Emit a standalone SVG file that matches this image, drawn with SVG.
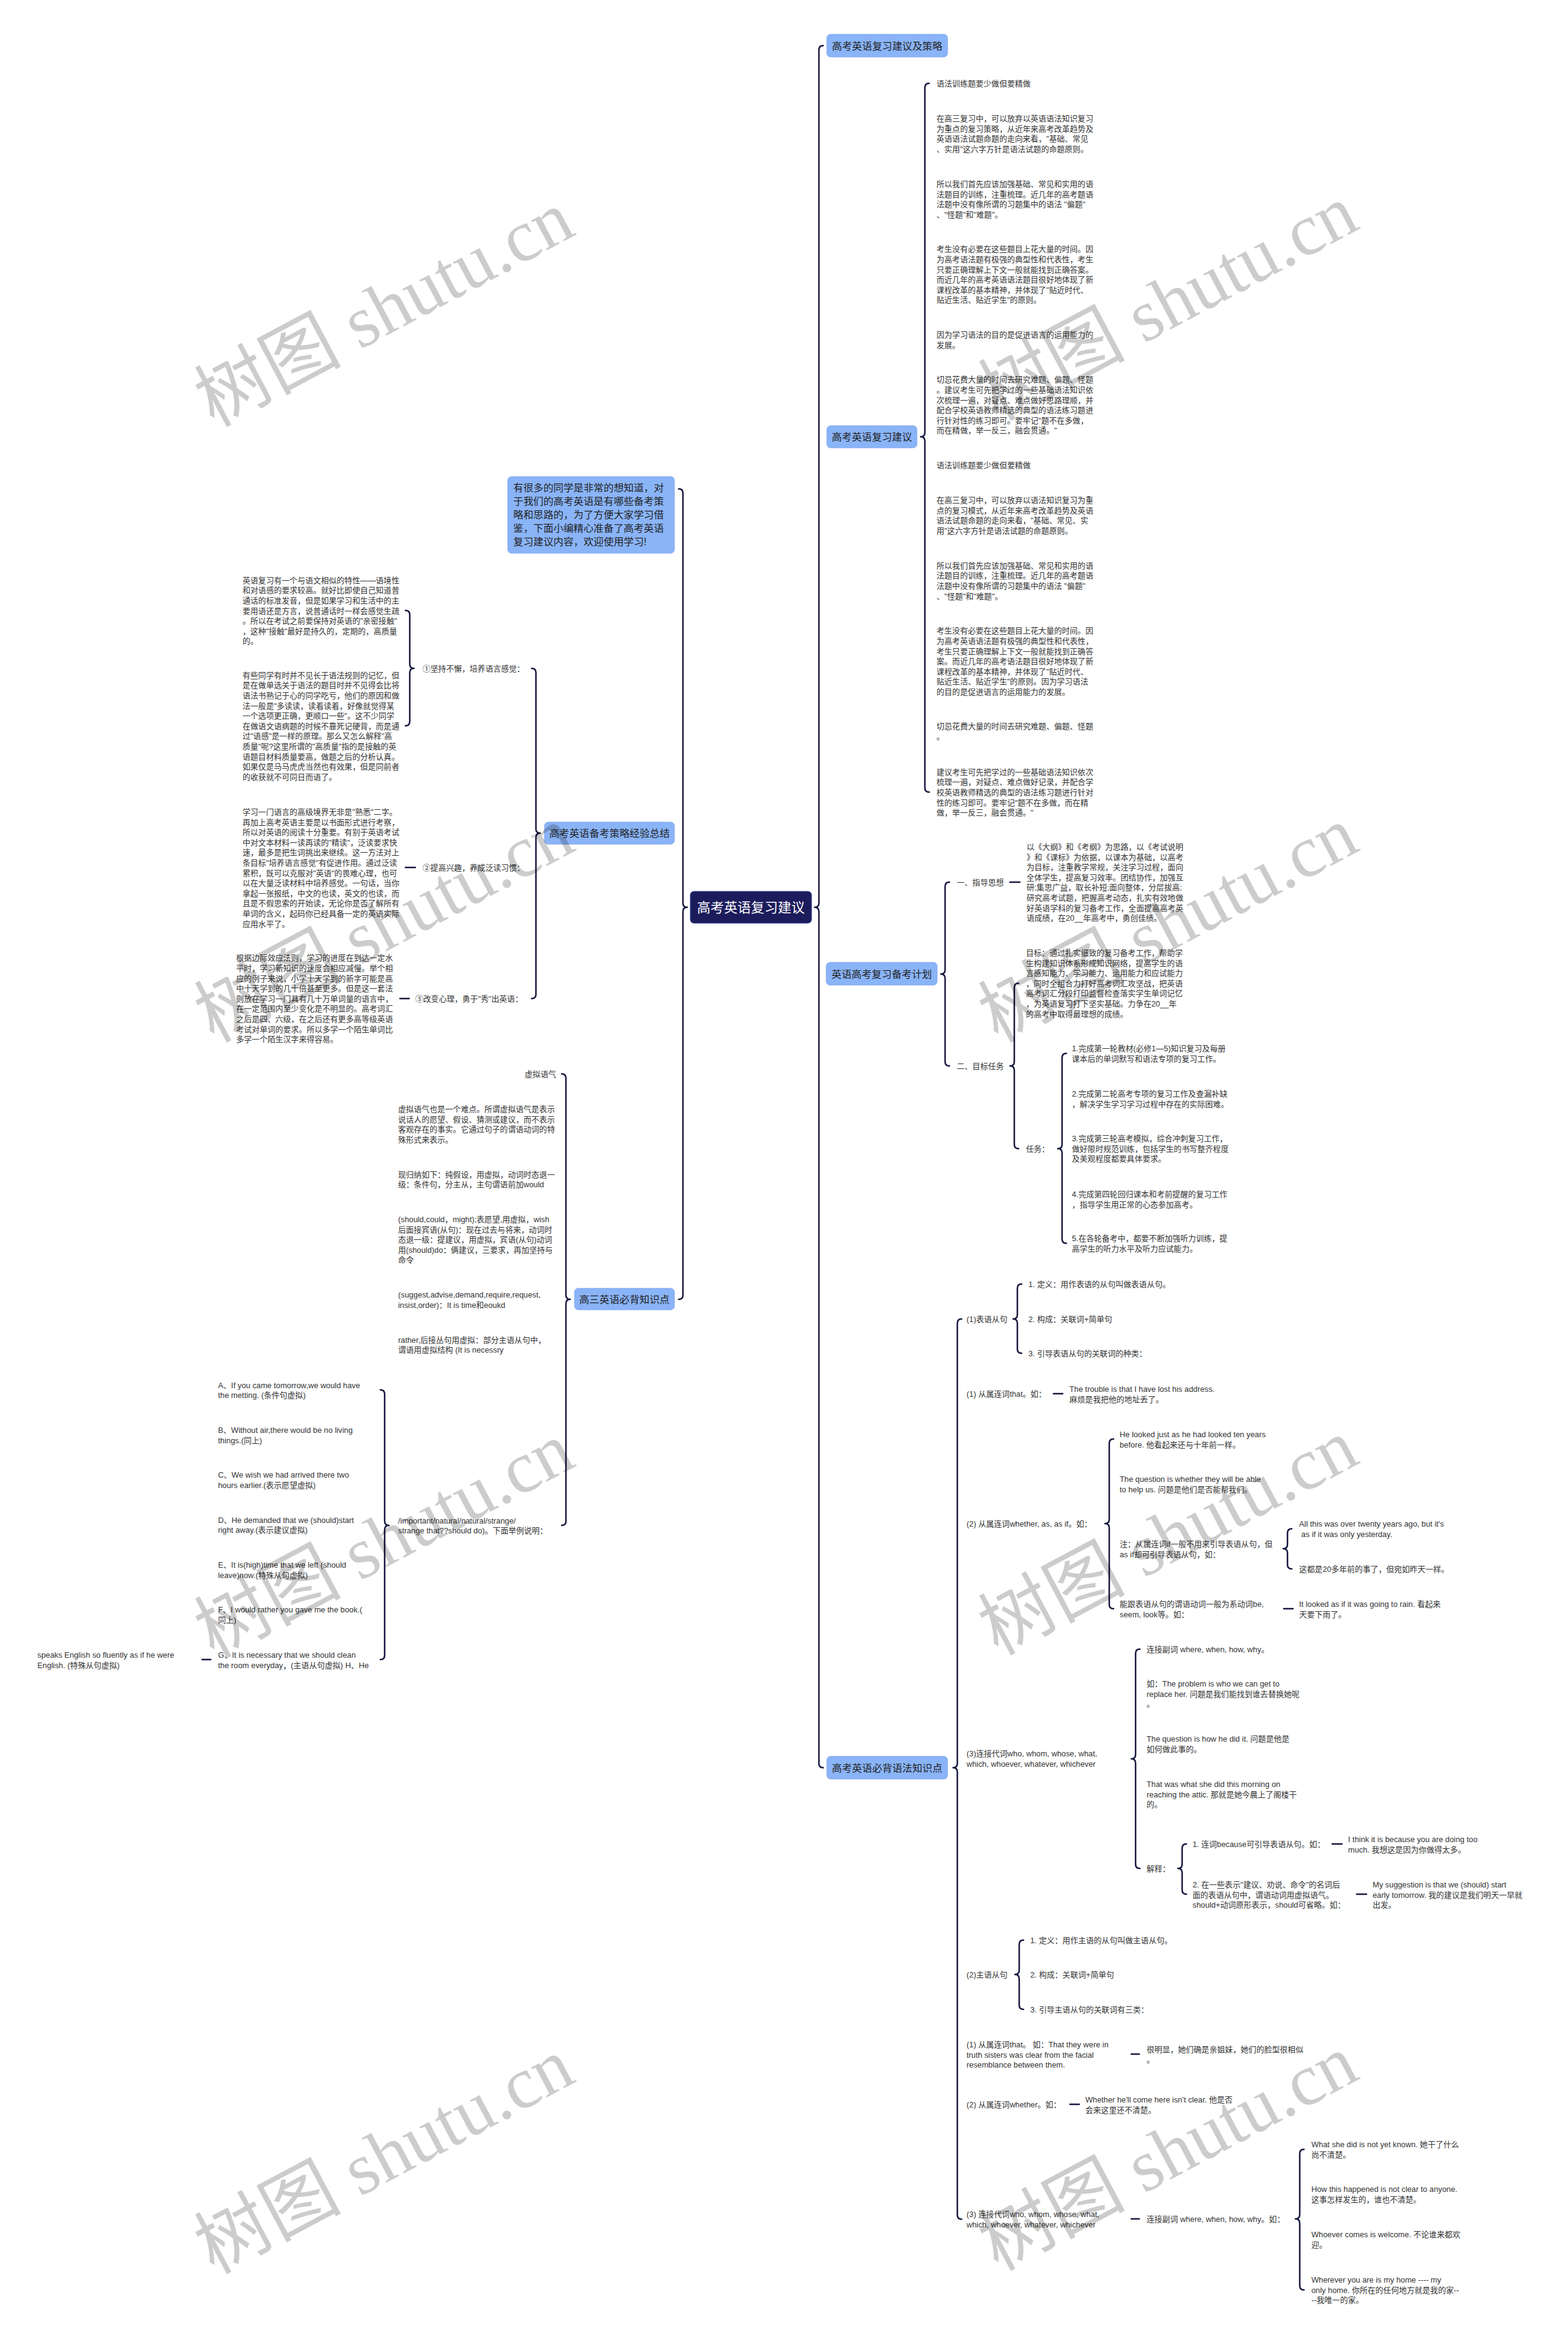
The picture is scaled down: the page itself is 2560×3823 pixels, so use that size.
<svg xmlns="http://www.w3.org/2000/svg" width="2560" height="3823" viewBox="0 0 2560 3823">
<style>
.t{font-family:"Liberation Sans","Noto Sans CJK SC",sans-serif;font-size:12.8px;fill:#333;dominant-baseline:central}
.n{font-family:"Liberation Sans","Noto Sans CJK SC",sans-serif;font-size:16.4px;fill:#1f1f1f;dominant-baseline:central}
.c{font-family:"Liberation Sans","Noto Sans CJK SC",sans-serif;font-size:22px;fill:#fff;dominant-baseline:central}
.bx{fill:#8ab4f8;stroke:#7ea6ee;stroke-width:1}
.br{fill:none;stroke:#16173f;stroke-width:2.5;stroke-linecap:round;stroke-linejoin:round}
.wm{font-family:"Liberation Serif","Noto Sans CJK SC",serif;font-size:120px;fill:#000;fill-opacity:0.2}
</style>
<rect width="2560" height="3823" fill="#fff"/>
<g id="connectors">
<path class="br" d="M1344 74.5 Q1337 74.5 1337 81.5 L1337 1474 Q1337 1481 1330 1481 Q1337 1481 1337 1488 L1337 2878.5 Q1337 2885.5 1344 2885.5"/>
<path class="br" d="M1108 798 Q1115 798 1115 805 L1115 1474 Q1115 1481 1122 1481 Q1115 1481 1115 1488 L1115 2114 Q1115 2121 1108 2121"/>
<path class="br" d="M1517 136 Q1510 136 1510 143 L1510 706 Q1510 713 1503 713 Q1510 713 1510 720 L1510 1286 Q1510 1293 1517 1293"/>
<path class="br" d="M1550 1440 Q1543 1440 1543 1447 L1543 1583 Q1543 1590 1536 1590 Q1543 1590 1543 1597 L1543 1733 Q1543 1740 1550 1740"/>
<path class="br" d="M1663 1605 Q1656 1605 1656 1612 L1656 1733 Q1656 1740 1649 1740 Q1656 1740 1656 1747 L1656 1868 Q1656 1875 1663 1875"/>
<path class="br" d="M1741 1719.5 Q1734 1719.5 1734 1726.5 L1734 1868 Q1734 1875 1727 1875 Q1734 1875 1734 1882 L1734 2022.5 Q1734 2029.5 1741 2029.5"/>
<path class="br" d="M1570 2153 Q1563 2153 1563 2160 L1563 2878.5 Q1563 2885.5 1556 2885.5 Q1563 2885.5 1563 2892.5 L1563 3615.5 Q1563 3622.5 1570 3622.5"/>
<path class="br" d="M1668 2096 Q1661 2096 1661 2103 L1661 2146 Q1661 2153 1654 2153 Q1661 2153 1661 2160 L1661 2202 Q1661 2209 1668 2209"/>
<path class="br" d="M1818 2349 Q1811 2349 1811 2356 L1811 2480 Q1811 2487 1804 2487 Q1811 2487 1811 2494 L1811 2619 Q1811 2626 1818 2626"/>
<path class="br" d="M2109 2495.5 Q2102 2495.5 2102 2502.5 L2102 2521 Q2102 2528 2095 2528 Q2102 2528 2102 2535 L2102 2554 Q2102 2561 2109 2561"/>
<path class="br" d="M1861 2692 Q1854 2692 1854 2699 L1854 2864 Q1854 2871 1847 2871 Q1854 2871 1854 2878 L1854 3043 Q1854 3050 1861 3050"/>
<path class="br" d="M1937 3010 Q1930 3010 1930 3017 L1930 3043 Q1930 3050 1923 3050 Q1930 3050 1930 3057 L1930 3085 Q1930 3092 1937 3092"/>
<path class="br" d="M1671 3167 Q1664 3167 1664 3174 L1664 3216 Q1664 3223 1657 3223 Q1664 3223 1664 3230 L1664 3273 Q1664 3280 1671 3280"/>
<path class="br" d="M2129 3508.5 Q2122 3508.5 2122 3515.5 L2122 3615 Q2122 3622 2115 3622 Q2122 3622 2122 3629 L2122 3731 Q2122 3738 2129 3738"/>
<path class="br" d="M868 1091 Q875 1091 875 1098 L875 1353 Q875 1360 882 1360 Q875 1360 875 1367 L875 1623 Q875 1630 868 1630"/>
<path class="br" d="M662 996.5 Q669 996.5 669 1003.5 L669 1084 Q669 1091 676 1091 Q669 1091 669 1098 L669 1177.7 Q669 1184.7 662 1184.7"/>
<path class="br" d="M917 1753 Q924 1753 924 1760 L924 2114 Q924 2121 931 2121 Q924 2121 924 2128 L924 2483 Q924 2490 917 2490"/>
<path class="br" d="M621 2268.7 Q628 2268.7 628 2275.7 L628 2483 Q628 2490 635 2490 Q628 2490 628 2497 L628 2702 Q628 2709 621 2709"/>
<path class="br" d="M1649 1440 H1665 M1720 2275 H1735 M2096 2626 H2111 M2175 3010 H2191 M2215 3092 H2231 M1847 3353 H1860 M1747 3435 H1762 M1847 3622 H1860 M662 1416 H678 M653 1630 H668 M330 2709 H344"/>
</g>
<g id="center">
<rect x="1127" y="1455" width="198" height="52" rx="6" fill="#1c1c5c" stroke="#3a4aa0" stroke-width="1"/>
<text class="c" x="1226" y="1481" text-anchor="middle">高考英语复习建议</text>
</g>
<g id="node-intro">
<rect class="bx" x="829" y="778" width="272" height="125" rx="6"/>
<text class="n" font-size="16.5"><tspan x="838" y="796">有很多的同学是非常的想知道，对</tspan><tspan x="838" y="818">于我们的高考英语是有哪些备考策</tspan><tspan x="838" y="840">略和思路的，为了方便大家学习借</tspan><tspan x="838" y="862">鉴，下面小编精心准备了高考英语</tspan><tspan x="838" y="884">复习建议内容，欢迎使用学习!</tspan></text>
</g>
<g id="node-strategy">
<rect class="bx" x="889" y="1342" width="212" height="36" rx="6"/>
<text class="n" x="995" y="1360" text-anchor="middle">高考英语备考策略经验总结</text>
<text class="t" x="690" y="1091">①坚持不懈，培养语言感觉：</text>
<text class="t"><tspan x="396" y="946.7">英语复习有一个与语文相似的特性——语境性</tspan><tspan x="396" y="963.3">和对语感的要求较高。就好比即使自己知道普</tspan><tspan x="396" y="979.9">通话的标准发音，但是如果学习和生活中的主</tspan><tspan x="396" y="996.5">要用语还是方言，说普通话时一样会感觉生疏</tspan><tspan x="396" y="1013.1">。所以在考试之前要保持对英语的"亲密接触"</tspan><tspan x="396" y="1029.7">，这种"接触"最好是持久的，定期的，高质量</tspan><tspan x="396" y="1046.3">的。</tspan></text>
<text class="t"><tspan x="396" y="1101.7">有些同学有时并不见长于语法规则的记忆，但</tspan><tspan x="396" y="1118.3">是在做单选关于语法的题目时并不见得会比将</tspan><tspan x="396" y="1134.9">语法书熟记于心的同学吃亏，他们的原因和做</tspan><tspan x="396" y="1151.5">法一般是"多读读，读着读着，好像就觉得某</tspan><tspan x="396" y="1168.1">一个选项更正确，更顺口一些"。这不少同学</tspan><tspan x="396" y="1184.7">在做语文语病题的时候不靠死记硬背，而是通</tspan><tspan x="396" y="1201.3">过"语感"是一样的原理。那么又怎么解释"高</tspan><tspan x="396" y="1217.9">质量"呢?这里所谓的"高质量"指的是接触的英</tspan><tspan x="396" y="1234.5">语题目材料质量要高，做题之后的分析认真。</tspan><tspan x="396" y="1251.1">如果仅是马马虎虎当然也有效果，但是同前者</tspan><tspan x="396" y="1267.7">的收获就不可同日而语了。</tspan></text>
<text class="t" x="690" y="1416">②提高兴趣，养成泛读习惯：</text>
<text class="t"><tspan x="396" y="1325">学习一门语言的高级境界无非是"熟悉"二字。</tspan><tspan x="396" y="1341.6">再加上高考英语主要是以书面形式进行考察，</tspan><tspan x="396" y="1358.2">所以对英语的阅读十分重要。有别于英语考试</tspan><tspan x="396" y="1374.8">中对文本材料一读再读的"精读"，泛读要求快</tspan><tspan x="396" y="1391.4">速，最多是把生词挑出来继续。这一方法对上</tspan><tspan x="396" y="1408">条目标"培养语言感觉"有促进作用。通过泛读</tspan><tspan x="396" y="1424.6">累积，既可以克服对"英语"的畏难心理，也可</tspan><tspan x="396" y="1441.2">以在大量泛读材料中培养感觉。一句话，当你</tspan><tspan x="396" y="1457.8">拿起一张报纸，中文的也读，英文的也读，而</tspan><tspan x="396" y="1474.4">且是不假思索的开始读，无论你是否了解所有</tspan><tspan x="396" y="1491">单词的含义，起码你已经具备一定的英语实际</tspan><tspan x="396" y="1507.6">应用水平了。</tspan></text>
<text class="t" x="678" y="1630">③改变心理，勇于"秀"出英语：</text>
<text class="t"><tspan x="385.5" y="1563.3">根据边际效应法则，学习的进度在到达一定水</tspan><tspan x="385.5" y="1579.9">平时，学习新知识的速度会相应减慢。举个相</tspan><tspan x="385.5" y="1596.5">应的例子来说，小学十天学到的新字可能是高</tspan><tspan x="385.5" y="1613.1">中十天学到的几十倍甚至更多。但是这一套法</tspan><tspan x="385.5" y="1629.7">则放在学习一门具有几十万单词量的语言中，</tspan><tspan x="385.5" y="1646.3">在一定范围内至少变化是不明显的。高考词汇</tspan><tspan x="385.5" y="1662.9">之后是四、六级，在之后还有更多高等级英语</tspan><tspan x="385.5" y="1679.5">考试对单词的要求。所以多学一个陌生单词比</tspan><tspan x="385.5" y="1696.1">多学一个陌生汉字来得容易。</tspan></text>
</g>
<g id="node-grade3">
<rect class="bx" x="938" y="2103" width="163" height="35" rx="6"/>
<text class="n" x="1019.5" y="2120.5" text-anchor="middle">高三英语必背知识点</text>
<text class="t" x="908" y="1753" text-anchor="end">虚拟语气</text>
<text class="t"><tspan x="650" y="1810">虚拟语气也是一个难点。所谓虚拟语气是表示</tspan><tspan x="650" y="1826.6">说话人的愿望、假设、猜测或建议，而不表示</tspan><tspan x="650" y="1843.2">客观存在的事实。它通过句子的谓语动词的特</tspan><tspan x="650" y="1859.8">殊形式来表示。</tspan></text>
<text class="t"><tspan x="650" y="1916.7">现归纳如下：纯假设，用虚拟，动词时态退一</tspan><tspan x="650" y="1933.3">级：条件句，分主从，主句谓语前加would</tspan></text>
<text class="t"><tspan x="650" y="1990">(should,could，might);表愿望,用虚拟，wish</tspan><tspan x="650" y="2006.6">后面接宾语(从句)：现在过去与将来，动词时</tspan><tspan x="650" y="2023.2">态退一级：提建议，用虚拟，宾语(从句)动词</tspan><tspan x="650" y="2039.8">用(should)do：俩建议，三要求，再加坚持与</tspan><tspan x="650" y="2056.4">命令</tspan></text>
<text class="t"><tspan x="650" y="2113.3">(suggest,advise,demand,require,request,</tspan><tspan x="650" y="2129.9">insist,order)：It is time和eoukd</tspan></text>
<text class="t"><tspan x="650" y="2186.7">rather,后接丛句用虚拟：部分主语从句中，</tspan><tspan x="650" y="2203.3">谓语用虚拟结构 (It is necessry</tspan></text>
<text class="t"><tspan x="650" y="2481.7">/important/natural/natural/strange/</tspan><tspan x="650" y="2498.3">strange that??should do)。下面举例说明：</tspan></text>
<text class="t"><tspan x="356" y="2260.7">A、If you came tomorrow,we would have</tspan><tspan x="356" y="2277.3">the metting. (条件句虚拟)</tspan></text>
<text class="t"><tspan x="356" y="2334">B、Without air,there would be no living</tspan><tspan x="356" y="2350.6">things.(同上)</tspan></text>
<text class="t"><tspan x="356" y="2407.3">C、We wish we had arrived there two</tspan><tspan x="356" y="2423.9">hours earlier.(表示愿望虚拟)</tspan></text>
<text class="t"><tspan x="356" y="2480.7">D、He demanded that we (should)start</tspan><tspan x="356" y="2497.3">right away.(表示建议虚拟)</tspan></text>
<text class="t"><tspan x="356" y="2554">E、It is(high)time that we left (should</tspan><tspan x="356" y="2570.6">leave)now.(特殊从句虚拟)</tspan></text>
<text class="t"><tspan x="356" y="2627.3">F、I would rather you gave me the book.(</tspan><tspan x="356" y="2643.9">同上)</tspan></text>
<text class="t"><tspan x="356" y="2701">G、It is necessary that we should clean</tspan><tspan x="356" y="2717.6">the room everyday，(主语从句虚拟) H、He</tspan></text>
<text class="t"><tspan x="61" y="2701">speaks English so fluently as if he were</tspan><tspan x="61" y="2717.6">English. (特殊从句虚拟)</tspan></text>
</g>
<g id="node-strategy2">
<rect class="bx" x="1350" y="56" width="197" height="37" rx="6"/>
<text class="n" x="1448.5" y="74.5" text-anchor="middle">高考英语复习建议及策略</text>
</g>
<g id="node-advice">
<rect class="bx" x="1350" y="695" width="147" height="36" rx="6"/>
<text class="n" x="1423.5" y="713" text-anchor="middle">高考英语复习建议</text>
<text class="t" x="1529" y="136">语法训练题要少做但要精做</text>
<text class="t"><tspan x="1529" y="193">在高三复习中，可以放弃以英语语法知识复习</tspan><tspan x="1529" y="209.6">为重点的复习策略，从近年来高考改革趋势及</tspan><tspan x="1529" y="226.2">英语语法试题命题的走向来看，"基础、常见</tspan><tspan x="1529" y="242.8">、实用"这六字方针是语法试题的命题原则。</tspan></text>
<text class="t"><tspan x="1529" y="300">所以我们首先应该加强基础、常见和实用的语</tspan><tspan x="1529" y="316.6">法题目的训练，注重梳理。近几年的高考题语</tspan><tspan x="1529" y="333.2">法题中没有像所谓的习题集中的语法 "偏题"</tspan><tspan x="1529" y="349.8">、"怪题"和"难题"。</tspan></text>
<text class="t"><tspan x="1529" y="406.4">考生没有必要在这些题目上花大量的时间。因</tspan><tspan x="1529" y="423">为高考语法题有极强的典型性和代表性，考生</tspan><tspan x="1529" y="439.6">只要正确理解上下文一般就能找到正确答案。</tspan><tspan x="1529" y="456.2">而近几年的高考英语语法题目很好地体现了新</tspan><tspan x="1529" y="472.8">课程改革的基本精神，并体现了"贴近时代、</tspan><tspan x="1529" y="489.4">贴近生活、贴近学生"的原则。</tspan></text>
<text class="t"><tspan x="1529" y="546.4">因为学习语法的目的是促进语言的运用能力的</tspan><tspan x="1529" y="563">发展。</tspan></text>
<text class="t"><tspan x="1529" y="619.4">切忌花费大量的时间去研究难题、偏题、怪题</tspan><tspan x="1529" y="636">。建议考生可先把学过的一些基础语法知识依</tspan><tspan x="1529" y="652.6">次梳理一遍，对疑点、难点做好思路理顺，并</tspan><tspan x="1529" y="669.2">配合学校英语教师精选的典型的语法练习题进</tspan><tspan x="1529" y="685.8">行针对性的练习即可。要牢记"题不在多做，</tspan><tspan x="1529" y="702.4">而在精做，举一反三，融会贯通。"</tspan></text>
<text class="t" x="1529" y="759">语法训练题要少做但要精做</text>
<text class="t"><tspan x="1529" y="816">在高三复习中，可以放弃以语法知识复习为重</tspan><tspan x="1529" y="832.6">点的复习模式，从近年来高考改革趋势及英语</tspan><tspan x="1529" y="849.2">语法试题命题的走向来看，"基础、常见、实</tspan><tspan x="1529" y="865.8">用"这六字方针是语法试题的命题原则。</tspan></text>
<text class="t"><tspan x="1529" y="922.7">所以我们首先应该加强基础、常见和实用的语</tspan><tspan x="1529" y="939.3">法题目的训练，注重梳理。近几年的高考题语</tspan><tspan x="1529" y="955.9">法题中没有像所谓的习题集中的语法 "偏题"</tspan><tspan x="1529" y="972.5">、"怪题"和"难题"。</tspan></text>
<text class="t"><tspan x="1529" y="1029.3">考生没有必要在这些题目上花大量的时间。因</tspan><tspan x="1529" y="1045.9">为高考英语语法题有极强的典型性和代表性，</tspan><tspan x="1529" y="1062.5">考生只要正确理解上下文一般就能找到正确答</tspan><tspan x="1529" y="1079.1">案。而近几年的高考语法题目很好地体现了新</tspan><tspan x="1529" y="1095.7">课程改革的基本精神，并体现了"贴近时代、</tspan><tspan x="1529" y="1112.3">贴近生活、贴近学生"的原则。因为学习语法</tspan><tspan x="1529" y="1128.9">的目的是促进语言的运用能力的发展。</tspan></text>
<text class="t"><tspan x="1529" y="1185.4">切忌花费大量的时间去研究难题、偏题、怪题</tspan><tspan x="1529" y="1202">。</tspan></text>
<text class="t"><tspan x="1529" y="1259.7">建议考生可先把学过的一些基础语法知识依次</tspan><tspan x="1529" y="1276.3">梳理一遍，对疑点、难点做好记录，并配合学</tspan><tspan x="1529" y="1292.9">校英语教师精选的典型的语法练习题进行针对</tspan><tspan x="1529" y="1309.5">性的练习即可。要牢记"题不在多做，而在精</tspan><tspan x="1529" y="1326.1">做，举一反三，融会贯通。"</tspan></text>
</g>
<g id="node-plan">
<rect class="bx" x="1349" y="1571" width="181" height="37" rx="6"/>
<text class="n" x="1439.5" y="1589.5" text-anchor="middle" font-size="17.5">英语高考复习备考计划</text>
<text class="t" x="1562" y="1440">一、指导思想</text>
<text class="t"><tspan x="1676" y="1382">以《大纲》和《考纲》为思路，以《考试说明</tspan><tspan x="1676" y="1398.6">》和《课标》为依据，以课本为基础，以高考</tspan><tspan x="1676" y="1415.2">为目标，注重教学常规，关注学习过程，面向</tspan><tspan x="1676" y="1431.8">全体学生，提高复习效率。团结协作，加强互</tspan><tspan x="1676" y="1448.4">研;集思广益，取长补短;面向整体，分层拔高;</tspan><tspan x="1676" y="1465">研究高考试题，把握高考动态，扎实有效地做</tspan><tspan x="1676" y="1481.6">好英语学科的复习备考工作，全面提高高考英</tspan><tspan x="1676" y="1498.2">语成绩，在20__年高考中，勇创佳绩。</tspan></text>
<text class="t" x="1562" y="1740">二、目标任务</text>
<text class="t"><tspan x="1675" y="1555">目标：通过扎实细致的复习备考工作，帮助学</tspan><tspan x="1675" y="1571.6">生构建知识体系形成知识网络，提高学生的语</tspan><tspan x="1675" y="1588.2">言感知能力、学习能力、运用能力和应试能力</tspan><tspan x="1675" y="1604.8">，同时全组合力打好高考词汇攻坚战，把英语</tspan><tspan x="1675" y="1621.4">高考词汇分段打印监督检查落实学生单词记忆</tspan><tspan x="1675" y="1638">，为英语复习打下坚实基础。力争在20__年</tspan><tspan x="1675" y="1654.6">的高考中取得最理想的成绩。</tspan></text>
<text class="t" x="1675" y="1875">任务：</text>
<text class="t"><tspan x="1750" y="1711">1.完成第一轮教材(必修1—5)知识复习及每册</tspan><tspan x="1750" y="1727.6">课本后的单词默写和语法专项的复习工作。</tspan></text>
<text class="t"><tspan x="1750" y="1785">2.完成第二轮高考专项的复习工作及查漏补缺</tspan><tspan x="1750" y="1801.6">，解决学生学习学习过程中存在的实际困难。</tspan></text>
<text class="t"><tspan x="1750" y="1858">3.完成第三轮高考模拟，综合冲刺复习工作，</tspan><tspan x="1750" y="1874.6">做好限时规范训练，包括学生的书写整齐程度</tspan><tspan x="1750" y="1891.2">及美观程度都要具体要求。</tspan></text>
<text class="t"><tspan x="1750" y="1949">4.完成第四轮回归课本和考前提醒的复习工作</tspan><tspan x="1750" y="1965.6">，指导学生用正常的心态参加高考。</tspan></text>
<text class="t"><tspan x="1750" y="2021">5.在各轮备考中，都要不断加强听力训练，提</tspan><tspan x="1750" y="2037.6">高学生的听力水平及听力应试能力。</tspan></text>
</g>
<g id="node-grammar">
<rect class="bx" x="1350" y="2867" width="197" height="37" rx="6"/>
<text class="n" x="1448.5" y="2885.5" text-anchor="middle">高考英语必背语法知识点</text>
<text class="t" x="1578" y="2153">(1)表语从句</text>
<text class="t" x="1679" y="2096">1. 定义：用作表语的从句叫做表语从句。</text>
<text class="t" x="1679" y="2153">2. 构成：关联词+简单句</text>
<text class="t" x="1679" y="2209">3. 引导表语从句的关联词的种类：</text>
<text class="t" x="1578" y="2275">(1) 从属连词that。如：</text>
<text class="t"><tspan x="1746" y="2267">The trouble is that I have lost his address.</tspan><tspan x="1746" y="2283.6">麻烦是我把他的地址丢了。</tspan></text>
<text class="t" x="1578" y="2487">(2) 从属连词whether, as, as if。如：</text>
<text class="t"><tspan x="1828" y="2341">He looked just as he had looked ten years</tspan><tspan x="1828" y="2357.6">before. 他看起来还与十年前一样。</tspan></text>
<text class="t"><tspan x="1828" y="2414">The question is whether they will be able</tspan><tspan x="1828" y="2430.6">to help us. 问题是他们是否能帮我们。</tspan></text>
<text class="t"><tspan x="1828" y="2520">注：从属连词if一般不用来引导表语从句，但</tspan><tspan x="1828" y="2536.6">as if却可引导表语从句，如：</tspan></text>
<text class="t"><tspan x="2121" y="2487">All this was over twenty years ago, but it's</tspan><tspan x="2121" y="2503.6"> as if it was only yesterday.</tspan></text>
<text class="t" x="2121" y="2561">这都是20多年前的事了，但宛如昨天一样。</text>
<text class="t"><tspan x="1828" y="2618">能跟表语从句的谓语动词一般为系动词be,</tspan><tspan x="1828" y="2634.6">seem, look等。如：</tspan></text>
<text class="t"><tspan x="2121" y="2618">It looked as if it was going to rain. 看起来</tspan><tspan x="2121" y="2634.6">天要下雨了。</tspan></text>
<text class="t"><tspan x="1578" y="2862">(3)连接代词who, whom, whose, what,</tspan><tspan x="1578" y="2878.6">which, whoever, whatever, whichever</tspan></text>
<text class="t" x="1872" y="2692">连接副词 where, when, how, why。</text>
<text class="t"><tspan x="1872" y="2748">如：The problem is who we can get to</tspan><tspan x="1872" y="2764.6">replace her. 问题是我们能找到谁去替换她呢</tspan><tspan x="1872" y="2781.2">。</tspan></text>
<text class="t"><tspan x="1872" y="2838">The question is how he did it. 问题是他是</tspan><tspan x="1872" y="2854.6">如何做此事的。</tspan></text>
<text class="t"><tspan x="1872" y="2912">That was what she did this morning on</tspan><tspan x="1872" y="2928.6">reaching the attic. 那就是她今晨上了阁楼干</tspan><tspan x="1872" y="2945.2">的。</tspan></text>
<text class="t" x="1872" y="3050">解释：</text>
<text class="t" x="1947" y="3010">1. 连词because可引导表语从句。如：</text>
<text class="t"><tspan x="2201" y="3002">I think it is because you are doing too</tspan><tspan x="2201" y="3018.6">much. 我想这是因为你做得太多。</tspan></text>
<text class="t"><tspan x="1947" y="3076">2. 在一些表示"建议、劝说、命令"的名词后</tspan><tspan x="1947" y="3092.6">面的表语从句中，谓语动词用虚拟语气。</tspan><tspan x="1947" y="3109.2">should+动词原形表示，should可省略。如：</tspan></text>
<text class="t"><tspan x="2241" y="3076">My suggestion is that we (should) start</tspan><tspan x="2241" y="3092.6">early tomorrow. 我的建议是我们明天一早就</tspan><tspan x="2241" y="3109.2">出发。</tspan></text>
<text class="t" x="1578" y="3223">(2)主语从句</text>
<text class="t" x="1682" y="3167">1. 定义：用作主语的从句叫做主语从句。</text>
<text class="t" x="1682" y="3223">2. 构成：关联词+简单句</text>
<text class="t" x="1682" y="3280">3. 引导主语从句的关联词有三类：</text>
<text class="t"><tspan x="1578" y="3337">(1) 从属连词that。 如：That they were in</tspan><tspan x="1578" y="3353.6">truth sisters was clear from the facial</tspan><tspan x="1578" y="3370.2">resemblance between them.</tspan></text>
<text class="t"><tspan x="1872" y="3345">很明显，她们确是亲姐妹，她们的脸型很相似</tspan><tspan x="1872" y="3361.6">。</tspan></text>
<text class="t" x="1578" y="3435">(2) 从属连词whether。如：</text>
<text class="t"><tspan x="1772" y="3427">Whether he'll come here isn't clear. 他是否</tspan><tspan x="1772" y="3443.6">会来这里还不清楚。</tspan></text>
<text class="t"><tspan x="1578" y="3614">(3) 连接代词who, whom, whose, what,</tspan><tspan x="1578" y="3630.6">which, whoever, whatever, whichever</tspan></text>
<text class="t" x="1872" y="3622">连接副词 where, when, how, why。如：</text>
<text class="t"><tspan x="2141" y="3500">What she did is not yet known. 她干了什么</tspan><tspan x="2141" y="3516.6">尚不清楚。</tspan></text>
<text class="t"><tspan x="2141" y="3573">How this happened is not clear to anyone.</tspan><tspan x="2141" y="3589.6">这事怎样发生的，谁也不清楚。</tspan></text>
<text class="t"><tspan x="2141" y="3647">Whoever comes is welcome. 不论谁来都欢</tspan><tspan x="2141" y="3663.6">迎。</tspan></text>
<text class="t"><tspan x="2141" y="3721">Wherever you are is my home ---- my</tspan><tspan x="2141" y="3737.6">only home. 你所在的任何地方就是我的家--</tspan><tspan x="2141" y="3754.2">--我唯一的家。</tspan></text>
</g>
<g id="watermarks">
<text class="wm" text-anchor="middle" transform="translate(646 540) rotate(-28)">树图 shutu.cn</text>
<text class="wm" text-anchor="middle" transform="translate(1926 530) rotate(-28)">树图 shutu.cn</text>
<text class="wm" text-anchor="middle" transform="translate(646 1545) rotate(-28)">树图 shutu.cn</text>
<text class="wm" text-anchor="middle" transform="translate(1926 1545) rotate(-28)">树图 shutu.cn</text>
<text class="wm" text-anchor="middle" transform="translate(646 2550) rotate(-28)">树图 shutu.cn</text>
<text class="wm" text-anchor="middle" transform="translate(1926 2545) rotate(-28)">树图 shutu.cn</text>
<text class="wm" text-anchor="middle" transform="translate(646 3555) rotate(-28)">树图 shutu.cn</text>
<text class="wm" text-anchor="middle" transform="translate(1926 3550) rotate(-28)">树图 shutu.cn</text>
</g>
</svg>
